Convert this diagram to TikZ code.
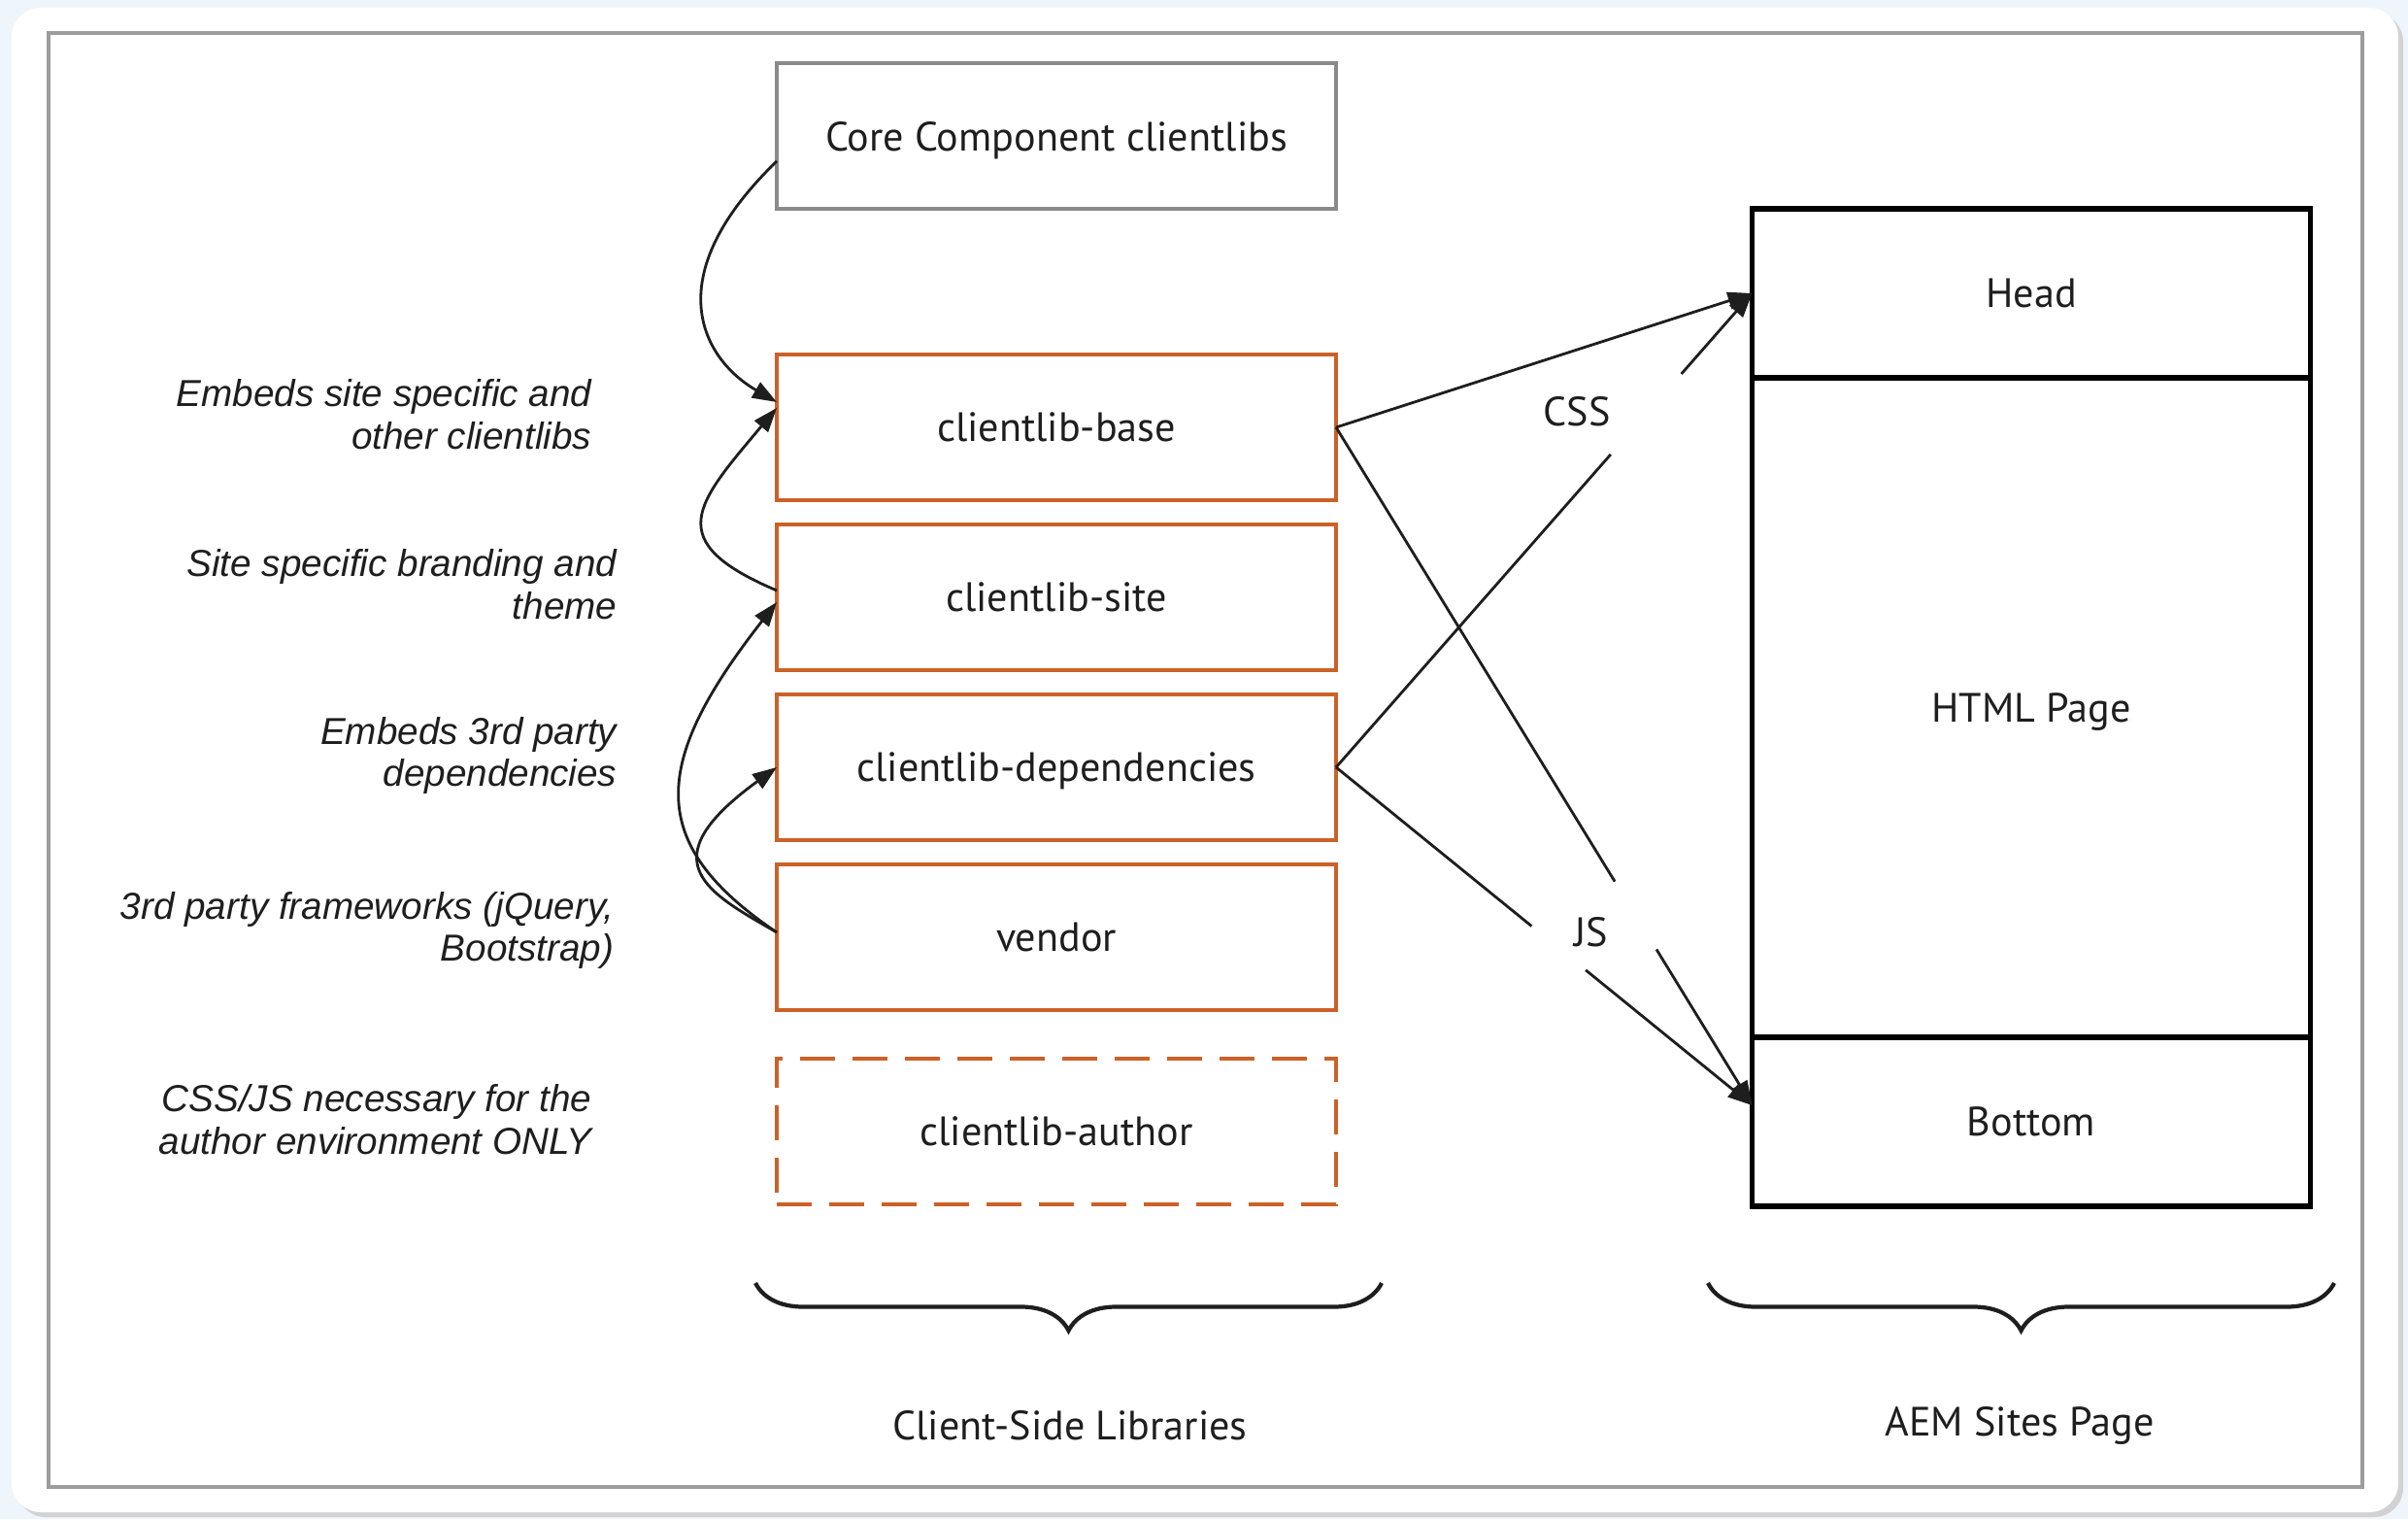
\documentclass[tikz,border=0pt]{standalone}
\usepackage{fontspec}
\setmainfont{PT Sans}
\newfontfamily\notefont{Liberation Sans}
\usepackage[HTML]{xcolor}
\usetikzlibrary{positioning, arrows.meta, calc, decorations.pathreplacing}

\definecolor{libOrange}{HTML}{CC6128}
\definecolor{coreGray}{HTML}{8A8A8A}
\definecolor{frameGray}{HTML}{9C9C9C}
\definecolor{bgBlue}{HTML}{EEF5FB}
\definecolor{inkDark}{HTML}{1E1E1E}

\tikzset{
  libbox/.style={draw=libOrange, line width=1.3pt, minimum width=5.76cm,
    minimum height=1.5cm, inner sep=0pt, outer sep=0pt, text=inkDark,
    text depth=0pt, font=\fontsize{12}{14}\selectfont},
  corebox/.style={libbox, draw=coreGray},
  authorbox/.style={libbox, dash pattern=on 3.6mm off 1.8mm},
  pagebox/.style={draw=black, line width=1.5pt, minimum width=5.75cm,
    inner sep=0pt, outer sep=0pt, text=inkDark, text depth=0pt,
    font=\fontsize{12}{14}\selectfont},
  annot/.style={anchor=east, align=right, inner sep=0pt, text=inkDark,
    font=\notefont\itshape\fontsize{11}{12.5}\selectfont},
  caption/.style={text=inkDark, font=\fontsize{12}{14}\selectfont},
  conn/.style={draw=inkDark, line width=0.8pt},
  feed/.style={-{Triangle[length=2.5mm, width=1.8mm]}},
  bracket/.style={draw=inkDark, line width=1.2pt, decorate,
    decoration={brace, mirror, amplitude=0.49cm}}
}

\begin{document}
\begin{tikzpicture}
\useasboundingbox (0,0) rectangle (24.8,15.64);

% card and frame
\fill[bgBlue] (0,0) rectangle (24.8,15.64);
\fill[gray!35, rounded corners=0.3cm] (0.17,0.02) rectangle (24.75,15.51);
\fill[white, rounded corners=0.3cm] (0.12,0.07) rectangle (24.70,15.56);
\draw[frameGray, line width=1pt] (0.50,0.33) rectangle (24.33,15.30);

% client-side libraries
\node[libbox] (base) at (10.88,11.24) {clientlib-base};
\node[corebox, above=1.5cm of base] (core) {Core Component clientlibs};
\node[libbox, below=0.25cm of base] (site) {clientlib-site};
\node[libbox, below=0.25cm of site] (dep) {clientlib-dependencies};
\node[libbox, below=0.25cm of dep] (vendor) {vendor};
\node[authorbox, below=0.5cm of vendor] (author) {clientlib-author};

% notes
\node[annot] (n-base) at (6.10,11.37) {Embeds site specific and\\other clientlibs};
\node[annot] (n-site) at (6.36,9.62) {Site specific branding and\\theme};
\node[annot] (n-dep) at (6.36,7.86) {Embeds 3rd party\\dependencies};
\node[annot] (n-vendor) at (6.33,6.06) {3rd party frameworks (jQuery,\\Bootstrap)};
\node[annot] (n-author) at (6.10,4.11) {CSS/JS necessary for the\\author environment ONLY};

% page
\node[pagebox, minimum height=1.74cm] (head) at (20.92,12.62) {Head};
\node[pagebox, minimum height=6.79cm, below=0pt of head] (html) {HTML Page};
\node[pagebox, minimum height=1.74cm, below=0pt of html] (bottom) {Bottom};
\coordinate (bottomin) at ([yshift=1.7mm]bottom.west);

% embeds
\draw[conn, feed] ([yshift=-2.6mm]core.west) to[out=224, in=150, out looseness=1.8, in looseness=0.9] ([yshift=2.6mm]base.west);
\draw[conn, feed] ([yshift=0.7mm]site.west) to[out=157, in=230, looseness=1.77] ([yshift=2.0mm]base.west);
\draw[conn, feed] ([yshift=0.5mm]vendor.west) to[out=146, in=232, out looseness=1.24, in looseness=1.58] ([yshift=-0.5mm]site.west);
\draw[conn, feed] ([yshift=0.5mm]vendor.west) to[out=150, in=216, out looseness=1.23, in looseness=2.5] (dep.west);

% css and js
\node[caption] (css) at (16.24,11.40) {CSS};
\node[caption] (js) at (16.39,6.04) {JS};
\draw[conn, feed] (base.east) -- (head.west);
\draw[conn] (dep.east) -- ($(dep.east)!0.66!(head.west)$);
\draw[conn, feed] ($(dep.east)!0.83!(head.west)$) -- (head.west);
\draw[conn] (base.east) -- ($(base.east)!0.67!(bottomin)$);
\draw[conn, feed] ($(base.east)!0.77!(bottomin)$) -- (bottomin);
\draw[conn] (dep.east) -- ($(dep.east)!0.47!(bottomin)$);
\draw[conn, feed] ($(dep.east)!0.60!(bottomin)$) -- (bottomin);

% braces
\draw[bracket] (7.78,2.43) -- (14.23,2.43);
\draw[bracket] (17.59,2.43) -- (24.04,2.43);
\node[caption] (libs) at (11.02,0.96) {Client-Side Libraries};
\node[caption] (sites) at (20.80,0.96) {AEM Sites Page};
\end{tikzpicture}
\end{document}
